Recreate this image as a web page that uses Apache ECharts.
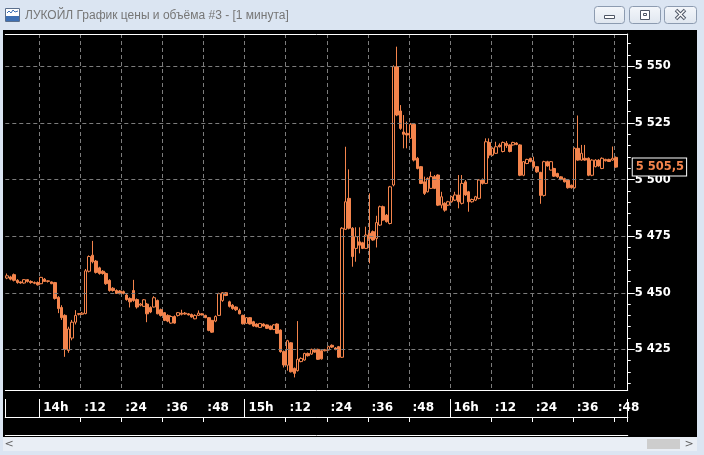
<!DOCTYPE html>
<html><head><meta charset="utf-8">
<script src="https://cdn.jsdelivr.net/npm/echarts@6/dist/echarts.min.js"></script>
<style>html,body{margin:0;padding:0;background:#000;overflow:hidden}#c{width:704px;height:455px}</style>
</head><body><div id="c"></div>
<script>
// ---------- data ----------
const startMinute = 13 * 60 + 50;   // first slot 13:50
const slotCount = 182;              // 13:50 .. 16:51
const opens = [5456.5,5457,5458,5455.5,5454.8,5454.3,5455.8,5455,5454.5,5454.5,5454,5456,5455,5454.8,5454.5,5448,5443.5,5440,5424.5,5430,5437,5440.5,5440.5,5440.8,5459.5,5466.6,5464,5461,5459.5,5458.5,5455.5,5452,5451,5450.8,5450.5,5449,5447.5,5451,5447,5444.5,5444,5445,5443.5,5443.7,5446.6,5442.5,5441.2,5440,5436.6,5439.5,5440,5441,5441,5440.7,5440.4,5438.5,5440,5440.7,5440,5439,5437.8,5437.5,5440,5446.6,5450,5446,5444.5,5443.7,5442.2,5440,5436.5,5439,5437.2,5436.2,5434.7,5436.2,5435.8,5435.3,5433.8,5436.2,5433.5,5424,5418,5427.9,5416.6,5415.6,5419.6,5420.3,5423.2,5422.9,5425,5425,5424.4,5424.4,5424.7,5426.8,5425.6,5426.2,5421.5,5478,5491.7,5478.5,5469.6,5472.5,5472.1,5469.6,5476.3,5477,5474,5479.9,5488,5484.3,5480.6,5497.6,5549.9,5530.3,5521,5520.4,5518.2,5524.4,5509.4,5505.7,5499,5494.6,5496.1,5501.3,5502,5488.7,5489.5,5488.7,5490.2,5490.9,5493.2,5489.5,5499,5494.6,5490.2,5490.9,5491.7,5499.8,5498.3,5516.4,5510.8,5511.6,5515.2,5512.4,5516,5515.3,5515.3,5516.1,5515.3,5501.9,5507.1,5509.4,5507.9,5505.7,5503.2,5493,5507.9,5504.2,5504.9,5502.7,5501.2,5500.4,5499.7,5497.5,5496.4,5513.8,5508.6,5509.4,5509.4,5501.9,5505.7,5508.6,5504.9,5508.9,5508.9,5508.6,5509.8];
const closes = [5457.5,5456,5455.5,5454.5,5454.3,5455.8,5455,5454.5,5454.2,5453.5,5456.8,5455,5455.3,5454,5447.5,5443,5439,5425,5434,5437,5440,5440.8,5441,5459.7,5466,5463.7,5459,5458.5,5458.5,5454,5451,5451,5449.7,5449.6,5449.7,5447,5446,5446.6,5443.7,5445,5446.9,5440.7,5441.5,5447.8,5440.7,5440,5437.8,5437.5,5439.5,5436.6,5441.2,5440.5,5440.6,5440.2,5439.3,5440,5441,5440.2,5439,5433.4,5432.6,5439.5,5449.6,5450,5448.8,5444,5443,5442.5,5440.7,5436.3,5439,5436.2,5435.3,5435,5436.4,5435.3,5434.3,5433.8,5435.8,5432.1,5424,5418.1,5428.8,5415.1,5414.4,5420.6,5421,5423.2,5422.2,5425,5423.8,5420.6,5420.8,5424.8,5426.2,5426,5425,5421.5,5478.5,5490.2,5478.5,5466,5474.8,5471,5469.6,5475.5,5474,5473.3,5481,5488,5482.1,5481.4,5496.8,5549.9,5528.5,5522.6,5520,5519.7,5524.4,5508.6,5504.9,5498.3,5493.9,5500.5,5501.3,5496.1,5488.7,5492.4,5486.5,5490.2,5492.4,5493.2,5490.2,5498.3,5493.2,5490.2,5491.2,5492.4,5499.8,5498.3,5516.7,5510.8,5513.8,5514.5,5514.5,5516.4,5515,5512.4,5516.4,5515.5,5501.9,5507.9,5508.9,5508,5505.7,5503.4,5493,5507.9,5506,5507.9,5501.5,5501.2,5500,5499,5496.4,5496.4,5513.8,5508.6,5511.6,5508.6,5501.9,5508.6,5508.6,5506,5509.4,5508.3,5508,5509.4,5505.5];
const lows = [5456,5455.5,5455,5454,5454,5454,5454.5,5454,5453.8,5453.2,5453.8,5454.8,5454.5,5453.8,5447,5441,5438,5421.7,5423.5,5429,5436,5440,5440.3,5440.5,5459,5463,5458.5,5458,5458,5453.5,5450.5,5450.5,5449.5,5449.3,5449.3,5446.5,5443.5,5446,5443,5444,5443.8,5437,5441,5443.5,5440.5,5439.5,5437.5,5437,5436.3,5436.3,5439.5,5440,5440.3,5440,5439,5438.3,5439.8,5440,5438.8,5433,5432.3,5437,5439.8,5446,5448.5,5443.5,5442.5,5442,5440.5,5436,5436.3,5436,5435,5434.8,5434.5,5435,5434,5433.5,5433.5,5431.8,5423.5,5417,5415.6,5414.8,5412.6,5415.2,5419.3,5420,5421.8,5422.6,5423.5,5420.3,5420.5,5424.1,5424.5,5425.6,5424.6,5421.2,5421.2,5477.7,5478,5461.5,5463.7,5467.4,5469.3,5469.3,5463,5473,5470,5479.5,5481.8,5481,5480.2,5497,5528,5522,5513.8,5513.8,5518,5508,5504.5,5498,5493.2,5494.3,5495.8,5495.8,5488.3,5487.3,5485.8,5488.3,5489.8,5490.5,5487.3,5489,5492.8,5485.8,5489.8,5490.5,5491.3,5497.8,5498,5509.4,5510.5,5511.3,5514.2,5512,5514,5512,5515,5515.2,5501.5,5501.5,5506.8,5507.6,5504.9,5503,5489.3,5492.5,5505.7,5504,5501.2,5500.8,5499.7,5498.7,5496,5496,5496,5508.3,5508.3,5508.3,5501.5,5501.5,5505.4,5505.7,5504.6,5508,5507.8,5508.3,5505.2];
const highs = [5458.5,5457.5,5458.5,5456,5455,5456,5456,5455.5,5455,5455,5457,5456.5,5455.5,5455,5454.8,5448.5,5444.5,5440.5,5435,5438,5442.3,5441,5441.5,5460.5,5466.5,5472.9,5464.5,5461.5,5460,5459,5456,5452.5,5451.5,5451.2,5451,5449.5,5448,5455.7,5447.5,5445.5,5447.2,5445.5,5444,5448.5,5447,5443,5441.5,5440.5,5440,5440,5441.5,5442.5,5441.5,5441,5440.8,5440.5,5442.2,5441,5440.3,5439.3,5438,5440,5450,5450.3,5450.3,5446.5,5445,5444,5443,5440.3,5439.3,5439.3,5437.6,5436.5,5436.7,5436.5,5436,5435.5,5436.2,5436.5,5433.8,5424.5,5429.2,5428.2,5417,5437.5,5421.5,5423.5,5423.6,5425.3,5425.4,5425.3,5424.7,5425.2,5426.6,5427.2,5426,5426.5,5479,5514.5,5504.5,5479,5478.9,5478.9,5472.5,5479.2,5493.9,5477.5,5484,5488.5,5488.5,5484.8,5497.2,5550.5,5558.7,5532.9,5528.5,5525.6,5525,5525,5510,5506,5501.3,5501,5503.5,5502,5502.3,5494.6,5490,5490.6,5492.8,5494.6,5502,5502,5499.8,5495,5491.6,5492.8,5500.2,5500.5,5518.2,5518.2,5514.2,5516.7,5516,5516.8,5517,5515.6,5516.7,5516.5,5515.6,5508.2,5509.2,5509.6,5510.1,5506,5503.4,5508.3,5508.3,5508.2,5505.2,5503,5501.5,5500.8,5500,5497.8,5514.2,5528.3,5515.3,5515.3,5509.8,5509,5509,5509,5509.8,5509.2,5509.2,5514.6,5510.2];
const priceTicks = [5425, 5450, 5475, 5500, 5525, 5550];
const minorPriceTicks = [5410,5415,5420,5425,5430,5435,5440,5445,5450,5455,5460,5465,5470,5475,5480,5485,5490,5495,5500,5505,5510,5515,5520,5525,5530,5535,5540,5545,5550,5555,5560];
const lastPrice = 5505.5;
const lastPriceText = '5 505,5';
const titleText = 'ЛУКОЙЛ График цены и объёма #3 - [1 минута]';

// ---------- helpers ----------
const pad2 = n => (n < 10 ? '0' : '') + n;
const categories = [];
for (let i = 0; i < slotCount; i++) {
  const m = startMinute + i;
  categories.push(pad2(Math.floor(m / 60)) + ':' + pad2(m % 60));
}
const minuteOf = i => startMinute + i;
const isGridSlot = i => minuteOf(i) % 12 === 0;
const isHourSlot = i => minuteOf(i) % 60 === 0;
const candleData = opens.map((o, i) => [o, closes[i], lows[i], highs[i]]);
const fmtPrice = v => Math.floor(v / 1000) + ' ' + String(Math.round(v % 1000)).padStart(3, '0');

const ORANGE = '#f4844c';
const GRID = '#7c7c7c';
const WHITE = '#ffffff';
const FRAME = '#dbe5f2';
const Y_MIN = 5407.05, Y_MAX = 5564.3;
const G_LEFT = 5.3, G_W = 622.44;

const chart = echarts.init(document.getElementById('c'), null, {renderer: 'canvas'});
const noParts = {axisTick: {show: false}, axisLabel: {show: false}, splitLine: {show: false}};

const option = {
  animation: false,
  backgroundColor: '#000000',
  grid: [
    {left: G_LEFT, top: 34, width: G_W, height: 356},
    {left: G_LEFT, top: 399, width: G_W, height: 18}
  ],
  xAxis: [
    {gridIndex: 0, type: 'category', data: categories, position: 'bottom', boundaryGap: true,
     axisLine: {show: true, lineStyle: {color: WHITE}}, axisTick: {show: false}, axisLabel: {show: false},
     splitLine: {show: true, interval: (i) => isGridSlot(i), lineStyle: {color: GRID, type: [4, 3], width: 1}}},
    Object.assign({gridIndex: 0, type: 'category', data: categories, position: 'top', boundaryGap: true,
     axisLine: {show: true, lineStyle: {color: WHITE}}}, noParts),
    {gridIndex: 1, type: 'category', data: categories, position: 'top', boundaryGap: true,
     axisLine: {show: true, lineStyle: {color: WHITE}},
     axisTick: {show: true, inside: true, length: 5, interval: (i) => isGridSlot(i) && !isHourSlot(i), lineStyle: {color: WHITE}},
     axisLabel: {show: true, inside: true, margin: 9, interval: (i) => isGridSlot(i),
       align: 'left', verticalAlign: 'middle', padding: [0, 0, 0, 2],
       color: WHITE, fontWeight: 'bold', fontSize: 12, fontFamily: 'DejaVu Sans',
       formatter: (v, i) => { const m = minuteOf(i); return m % 60 === 0 ? Math.floor(m / 60) + 'h' : ':' + pad2(m % 60); }},
     splitLine: {show: true, interval: (i) => isHourSlot(i) || i === 0, lineStyle: {color: WHITE, width: 1}}},
    Object.assign({gridIndex: 1, type: 'category', data: categories, position: 'bottom', boundaryGap: true,
     axisLine: {show: true, lineStyle: {color: WHITE}}}, noParts),
    Object.assign({gridIndex: 1, type: 'category', data: categories, position: 'bottom', offset: 18, boundaryGap: true,
     axisLine: {show: true, lineStyle: {color: WHITE}}}, noParts)
  ],
  yAxis: [
    {gridIndex: 0, type: 'value', position: 'right', min: Y_MIN, max: Y_MAX,
     axisLine: {show: true, lineStyle: {color: WHITE}},
     axisTick: {show: true, length: 7, customValues: priceTicks, lineStyle: {color: WHITE}},
     axisLabel: {show: true, customValues: priceTicks, margin: 7, color: WHITE, fontWeight: 'bold',
       fontSize: 11.5, fontFamily: 'DejaVu Sans', formatter: fmtPrice,
       backgroundColor: 'rgba(0,0,0,0)', padding: [5, 0, 0, 0]},
     splitLine: {show: false}},
    {gridIndex: 0, type: 'value', position: 'right', min: Y_MIN, max: Y_MAX,
     axisLine: {show: false},
     axisTick: {show: true, length: 3, customValues: minorPriceTicks, lineStyle: {color: WHITE}},
     axisLabel: {show: false}, splitLine: {show: false}},
    {gridIndex: 1, type: 'value', show: false, min: 0, max: 1}
  ],
  series: [
    {type: 'line', xAxisIndex: 0, yAxisIndex: 0, data: [], z: 1, silent: true,
     markLine: {silent: true, animation: false, symbol: ['none', 'none'], label: {show: false},
       lineStyle: {color: GRID, type: [4, 3], width: 1},
       data: priceTicks.map(v => ({yAxis: v}))}},
    {type: 'candlestick', xAxisIndex: 0, yAxisIndex: 0, data: candleData, barWidth: 3, z: 3,
     itemStyle: {color: '#000000', color0: ORANGE, borderColor: ORANGE, borderColor0: ORANGE, borderWidth: 1}},
    {type: 'line', xAxisIndex: 0, yAxisIndex: 0, data: [], z: 4, silent: true,
     markLine: {silent: true, animation: false, symbol: ['none', 'none'],
       lineStyle: {color: 'rgba(0,0,0,0)', width: 1},
       label: {show: true, position: 'end', distance: 5, formatter: lastPriceText, color: ORANGE,
         fontWeight: 'bold', fontSize: 11.5, fontFamily: 'DejaVu Sans', backgroundColor: '#000000',
         borderColor: WHITE, borderWidth: 1, padding: [3, 2, 2, 3]},
       data: [{yAxis: lastPrice}]}}
  ],
  graphic: [
    {type: 'rect', z: 50, shape: {x: 0, y: 0, width: 704, height: 30}, style: {fill: FRAME}},
    {type: 'rect', z: 50, shape: {x: 0, y: 30, width: 3, height: 425}, style: {fill: FRAME}},
    {type: 'rect', z: 50, shape: {x: 697, y: 30, width: 7, height: 425}, style: {fill: FRAME}},
    {type: 'rect', z: 50, shape: {x: 0, y: 451, width: 704, height: 4}, style: {fill: FRAME}},
    {type: 'rect', z: 50, shape: {x: 3, y: 437, width: 694, height: 14}, style: {fill: '#e9eef5'}},
    {type: 'rect', z: 51, shape: {x: 647, y: 439, width: 33, height: 10}, style: {fill: '#cdcdcd'}},
    {type: 'text', z: 51, style: {text: '<', x: 9, y: 444, fill: '#606060', fontSize: 11, fontFamily: 'DejaVu Sans', align: 'center', verticalAlign: 'middle'}},
    {type: 'text', z: 51, style: {text: '>', x: 689, y: 444, fill: '#606060', fontSize: 11, fontFamily: 'DejaVu Sans', align: 'center', verticalAlign: 'middle'}},
    // title icon
    {type: 'rect', z: 51, shape: {x: 5.5, y: 8.5, width: 14, height: 13}, style: {fill: '#ffffff', stroke: '#5b6f8c', lineWidth: 1}},
    {type: 'rect', z: 52, shape: {x: 6, y: 16, width: 13, height: 5}, style: {fill: '#3d6fb3'}},
    {type: 'polyline', z: 52, shape: {points: [[7, 13], [9, 11], [11, 13], [13, 10], [15, 12], [18, 11]]}, style: {stroke: '#3d6fb3', lineWidth: 1, fill: null}},
    {type: 'text', z: 51, style: {text: titleText, x: 25, y: 15.5, fill: '#767676', fontSize: 12, fontFamily: 'Liberation Sans', align: 'left', verticalAlign: 'middle'}},
    // window buttons
    {type: 'rect', z: 51, shape: {x: 594.5, y: 6.5, width: 30, height: 17, r: 3},
     style: {fill: {type: 'linear', x: 0, y: 0, x2: 0, y2: 1, colorStops: [{offset: 0, color: '#f4f7fb'}, {offset: 1, color: '#dfe6ef'}]}, stroke: '#8c9bb0'}},
    {type: 'rect', z: 51, shape: {x: 629.5, y: 6.5, width: 31, height: 17, r: 3},
     style: {fill: {type: 'linear', x: 0, y: 0, x2: 0, y2: 1, colorStops: [{offset: 0, color: '#f4f7fb'}, {offset: 1, color: '#dfe6ef'}]}, stroke: '#8c9bb0'}},
    {type: 'rect', z: 51, shape: {x: 664.5, y: 6.5, width: 32, height: 17, r: 3},
     style: {fill: {type: 'linear', x: 0, y: 0, x2: 0, y2: 1, colorStops: [{offset: 0, color: '#f4f7fb'}, {offset: 1, color: '#dfe6ef'}]}, stroke: '#8c9bb0'}},
    {type: 'rect', z: 52, shape: {x: 604.5, y: 15.5, width: 10, height: 3}, style: {fill: '#ffffff', stroke: '#4f5766'}},
    {type: 'rect', z: 52, shape: {x: 640.5, y: 10.5, width: 9, height: 9}, style: {fill: '#ffffff', stroke: '#4f5766'}},
    {type: 'rect', z: 53, shape: {x: 643.5, y: 13.5, width: 3, height: 2}, style: {fill: '#ffffff', stroke: '#4f5766'}},
    {type: 'line', z: 52, shape: {x1: 676, y1: 10, x2: 685, y2: 19}, style: {stroke: '#4f5766', lineWidth: 3.5}},
    {type: 'line', z: 52, shape: {x1: 685, y1: 10, x2: 676, y2: 19}, style: {stroke: '#4f5766', lineWidth: 3.5}},
    {type: 'line', z: 53, shape: {x1: 676.5, y1: 10.5, x2: 684.5, y2: 18.5}, style: {stroke: '#ffffff', lineWidth: 1.5}},
    {type: 'line', z: 53, shape: {x1: 684.5, y1: 10.5, x2: 676.5, y2: 18.5}, style: {stroke: '#ffffff', lineWidth: 1.5}}
  ]
};
chart.setOption(option);
</script>
</body></html>
